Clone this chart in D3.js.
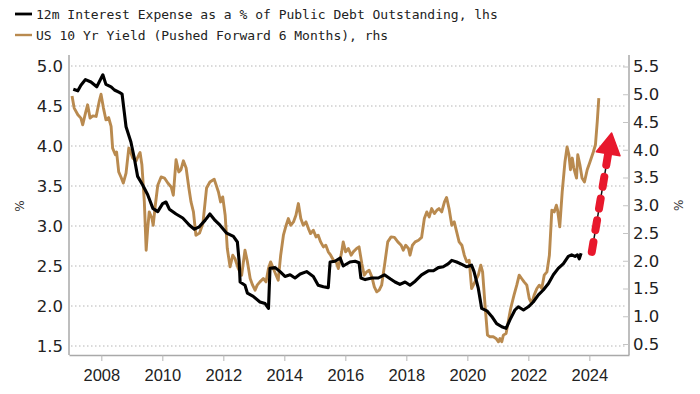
<!DOCTYPE html>
<html>
<head>
<meta charset="utf-8">
<script src="https://cdn.jsdelivr.net/npm/d3@7"></script>
<style>
  body { margin: 0; background: #fff; }
  svg { display: block; }
</style>
</head>
<body>
<div id="chart"></div>
<script>
// 12m interest expense as % of public debt outstanding (lhs)
const expenseDates = [2007.08, 2007.23, 2007.33, 2007.48, 2007.66, 2007.85, 2007.93, 2008.05, 2008.15, 2008.32,
  2008.43, 2008.59, 2008.68, 2008.75, 2008.81, 2008.97, 2009.08, 2009.19, 2009.36, 2009.52,
  2009.69, 2009.85, 2010.01, 2010.12, 2010.23, 2010.45, 2010.67, 2010.89, 2011.05, 2011.21,
  2011.40, 2011.56, 2011.73, 2011.89, 2012.11, 2012.33, 2012.46, 2012.52, 2012.55, 2012.71,
  2012.79, 2012.98, 2013.20, 2013.37, 2013.48, 2013.53, 2013.70, 2013.86, 2014.02, 2014.19,
  2014.35, 2014.52, 2014.73, 2014.95, 2015.11, 2015.28, 2015.44, 2015.50, 2015.66, 2015.83,
  2015.93, 2016.15, 2016.32, 2016.45, 2016.51, 2016.65, 2016.87, 2017.08, 2017.28, 2017.47,
  2017.63, 2017.79, 2017.96, 2018.12, 2018.29, 2018.50, 2018.72, 2018.89, 2019.05, 2019.21,
  2019.38, 2019.49, 2019.65, 2019.82, 2019.98, 2020.14, 2020.22, 2020.36, 2020.47, 2020.64,
  2020.80, 2020.96, 2021.13, 2021.27, 2021.40, 2021.56, 2021.67, 2021.84, 2022.00, 2022.16,
  2022.33, 2022.49, 2022.66, 2022.82, 2022.98, 2023.15, 2023.31, 2023.42, 2023.53, 2023.61,
  2023.67, 2023.73];
const expenseValues = [4.71, 4.69, 4.76, 4.83, 4.80, 4.74, 4.80, 4.89, 4.77, 4.74,
  4.70, 4.67, 4.65, 4.43, 4.24, 4.05, 3.85, 3.62, 3.51, 3.39,
  3.22, 3.18, 3.28, 3.30, 3.21, 3.15, 3.10, 3.01, 2.96, 2.99,
  3.07, 3.15, 3.07, 3.01, 2.91, 2.87, 2.80, 2.55, 2.30, 2.26,
  2.16, 2.12, 2.05, 2.03, 1.97, 2.47, 2.48, 2.43, 2.37, 2.39,
  2.35, 2.40, 2.43, 2.37, 2.26, 2.24, 2.23, 2.55, 2.56, 2.60,
  2.50, 2.55, 2.56, 2.54, 2.35, 2.33, 2.35, 2.35, 2.39, 2.34,
  2.30, 2.27, 2.30, 2.26, 2.31, 2.39, 2.44, 2.44, 2.48, 2.49,
  2.53, 2.57, 2.55, 2.52, 2.49, 2.51, 2.43, 2.22, 1.97, 1.94,
  1.87, 1.78, 1.74, 1.72, 1.83, 1.95, 1.99, 1.95, 1.99, 2.05,
  2.14, 2.20, 2.28, 2.39, 2.47, 2.53, 2.62, 2.64, 2.62, 2.64,
  2.59, 2.66];

// US 10 yr yield pushed forward 6 months (rhs)
const yieldDates = [2007.04, 2007.11, 2007.23, 2007.33, 2007.39, 2007.48, 2007.55, 2007.63, 2007.72, 2007.83,
  2007.93, 2007.99, 2008.07, 2008.15, 2008.24, 2008.32, 2008.37, 2008.46, 2008.50, 2008.57,
  2008.65, 2008.72, 2008.81, 2008.90, 2008.97, 2009.03, 2009.14, 2009.23, 2009.27, 2009.33,
  2009.41, 2009.47, 2009.52, 2009.57, 2009.66, 2009.70, 2009.77, 2009.85, 2009.96, 2010.07,
  2010.18, 2010.29, 2010.36, 2010.45, 2010.54, 2010.61, 2010.69, 2010.78, 2010.87, 2010.94,
  2011.02, 2011.10, 2011.22, 2011.33, 2011.45, 2011.56, 2011.70, 2011.84, 2011.91, 2011.98,
  2012.06, 2012.13, 2012.22, 2012.31, 2012.38, 2012.49, 2012.60, 2012.71, 2012.79, 2012.88,
  2012.96, 2013.04, 2013.11, 2013.20, 2013.31, 2013.40, 2013.48, 2013.55, 2013.64, 2013.73,
  2013.80, 2013.88, 2013.97, 2014.06, 2014.13, 2014.21, 2014.30, 2014.38, 2014.46, 2014.54,
  2014.62, 2014.71, 2014.79, 2014.86, 2014.95, 2015.04, 2015.11, 2015.19, 2015.28, 2015.36,
  2015.44, 2015.52, 2015.61, 2015.70, 2015.77, 2015.88, 2015.93, 2016.01, 2016.10, 2016.19,
  2016.26, 2016.37, 2016.45, 2016.54, 2016.62, 2016.70, 2016.78, 2016.87, 2016.95, 2017.03,
  2017.11, 2017.19, 2017.30, 2017.39, 2017.50, 2017.61, 2017.72, 2017.83, 2017.90, 2017.98,
  2018.07, 2018.12, 2018.20, 2018.29, 2018.40, 2018.50, 2018.59, 2018.67, 2018.75, 2018.83,
  2018.92, 2019.00, 2019.07, 2019.16, 2019.25, 2019.32, 2019.40, 2019.49, 2019.57, 2019.65,
  2019.73, 2019.82, 2019.90, 2019.98, 2020.06, 2020.14, 2020.25, 2020.36, 2020.44, 2020.50,
  2020.58, 2020.66, 2020.74, 2020.85, 2020.94, 2021.02, 2021.07, 2021.13, 2021.18, 2021.27,
  2021.34, 2021.42, 2021.53, 2021.62, 2021.70, 2021.78, 2021.86, 2021.95, 2022.03, 2022.11,
  2022.19, 2022.28, 2022.36, 2022.44, 2022.52, 2022.61, 2022.69, 2022.77, 2022.85, 2022.92,
  2022.96, 2023.03, 2023.11, 2023.20, 2023.27, 2023.33, 2023.38, 2023.44, 2023.49, 2023.58,
  2023.62, 2023.69, 2023.76, 2023.84, 2023.93, 2024.02, 2024.13, 2024.20, 2024.26, 2024.31];
const yieldValues = [4.97, 4.75, 4.63, 4.57, 4.45, 4.66, 4.81, 4.57, 4.61, 4.60,
  4.87, 5.00, 4.75, 4.54, 4.58, 4.42, 4.03, 3.91, 3.96, 3.60,
  3.50, 3.40, 3.58, 4.03, 3.94, 3.85, 3.80, 3.91, 3.95, 3.73,
  3.06, 2.19, 2.58, 2.88, 2.76, 2.64, 3.00, 3.36, 3.51, 3.49,
  3.40, 3.33, 3.18, 3.82, 3.60, 3.64, 3.80, 3.67, 3.31, 3.06,
  2.88, 2.46, 2.50, 2.67, 3.31, 3.42, 3.47, 3.24, 3.06, 3.15,
  2.82, 2.22, 1.89, 2.10, 2.04, 1.86, 1.74, 2.19, 1.98, 1.68,
  1.56, 1.47, 1.56, 1.62, 1.68, 1.62, 1.86, 1.98, 1.86, 1.74,
  1.65, 2.10, 2.46, 2.64, 2.76, 2.64, 2.70, 2.82, 3.03, 2.76,
  2.64, 2.70, 2.58, 2.49, 2.55, 2.43, 2.46, 2.34, 2.25, 2.28,
  2.16, 2.10, 2.01, 1.98, 1.86, 2.16, 2.34, 2.16, 2.22, 2.10,
  2.16, 2.22, 2.25, 1.95, 1.74, 1.80, 1.83, 1.71, 1.53, 1.44,
  1.47, 1.56, 1.98, 2.34, 2.43, 2.42, 2.34, 2.28, 2.19, 2.28,
  2.22, 2.10, 2.28, 2.34, 2.37, 2.42, 2.76, 2.88, 2.79, 2.94,
  2.85, 2.91, 2.94, 2.88, 3.06, 3.14, 2.94, 2.64, 2.70, 2.52,
  2.34, 2.28, 2.10, 1.98, 2.01, 1.50, 1.62, 1.74, 1.92, 1.80,
  1.20, 0.66, 0.63, 0.63, 0.60, 0.54, 0.60, 0.54, 0.66, 0.69,
  0.90, 1.14, 1.38, 1.56, 1.74, 1.68, 1.62, 1.56, 1.32, 1.23,
  1.38, 1.50, 1.56, 1.50, 1.74, 1.80, 2.10, 2.91, 2.88, 3.00,
  2.91, 2.61, 3.24, 3.78, 4.05, 3.91, 3.64, 3.85, 3.67, 3.49,
  3.91, 3.73, 3.49, 3.42, 3.64, 3.78, 3.96, 4.09, 4.51, 4.93];

const leftTicks = [1.5, 2.0, 2.5, 3.0, 3.5, 4.0, 4.5, 5.0];
const rightTicks = [0.5, 1.0, 1.5, 2.0, 2.5, 3.0, 3.5, 4.0, 4.5, 5.0, 5.5];
const yearTicks = [2008, 2010, 2012, 2014, 2016, 2018, 2020, 2022, 2024];
const legendLabels = ["12m Interest Expense as a % of Public Debt Outstanding, lhs",
  "US 10 Yr Yield (Pushed Forward 6 Months), rhs"];
// hand-drawn arrow annotation, on the rhs scale: [year, value]
const arrowStart = [2024.08, 2.16];
const arrowTip = [2024.73, 4.30];

const width = 700, height = 394;
const margin = {top: 55, right: 71, bottom: 39, left: 69};
const black = "#000000", tan = "#b98a4f";

const svg = d3.select("#chart").append("svg")
  .attr("width", width)
  .attr("height", height);

const x = d3.scaleLinear()
  .domain([2006.94, 2025.3])
  .range([margin.left, width - margin.right]);
const yL = d3.scaleLinear()
  .domain([1.3875, 5.1375])
  .range([height - margin.bottom, margin.top]);
const yR = d3.scaleLinear()
  .domain([0.302, 5.707])
  .range([height - margin.bottom, margin.top]);

// gridlines (follow lhs ticks)
svg.append("g")
  .selectAll("line")
  .data(leftTicks)
  .join("line")
  .attr("x1", margin.left + 2)
  .attr("x2", width - margin.right - 2)
  .attr("y1", d => yL(d))
  .attr("y2", d => yL(d))
  .attr("stroke", "#b5b5b5")
  .attr("stroke-width", 1)
  .attr("stroke-dasharray", "1.5,2.5");

// left axis
const leftAxis = svg.append("g")
  .attr("transform", "translate(" + margin.left + ",0)")
  .call(d3.axisLeft(yL).tickValues(leftTicks).tickFormat(d3.format(".1f")).tickSize(0).tickPadding(6));

// right axis
const rightAxis = svg.append("g")
  .attr("transform", "translate(" + (width - margin.right) + ",0)")
  .call(d3.axisRight(yR).tickValues(rightTicks).tickFormat(d3.format(".1f")).tickSizeInner(-6).tickSizeOuter(0).tickPadding(4));

// bottom axis
const bottomAxis = svg.append("g")
  .attr("transform", "translate(0," + (height - margin.bottom) + ")")
  .call(d3.axisBottom(x).tickValues(yearTicks).tickFormat(d3.format("d")).tickSizeInner(6).tickSizeOuter(0).tickPadding(8));

[leftAxis, rightAxis].forEach(g => {
  g.select(".domain").attr("stroke", "#a9a9a9").attr("stroke-width", 1.5);
  g.selectAll(".tick line").attr("stroke", "#c4c4c4");
  g.selectAll("text")
    .attr("fill", "#222")
    .style("font-family", "DejaVu Sans, Verdana, sans-serif")
    .style("font-size", "16.5px");
});
bottomAxis.select(".domain").attr("stroke", "#a9a9a9").attr("stroke-width", 1.5);
bottomAxis.selectAll(".tick line").attr("stroke", "#b5b5b5");
bottomAxis.selectAll("text")
  .attr("fill", "#222")
  .style("font-family", "Liberation Sans, Arial, sans-serif")
  .style("font-size", "16.5px");

// the axis domains start a bit above the top gridline
leftAxis.select(".domain").attr("d", "M0," + (height - margin.bottom) + "V" + margin.top);
rightAxis.select(".domain").attr("d", "M0," + (height - margin.bottom) + "V" + margin.top);

// % unit labels
svg.append("text")
  .attr("transform", "translate(20," + yL(3.25) + ") rotate(-90)")
  .attr("text-anchor", "middle")
  .attr("dominant-baseline", "middle")
  .style("font-family", "DejaVu Sans, sans-serif")
  .style("font-size", "12px")
  .attr("fill", "#333")
  .text("%");
svg.append("text")
  .attr("transform", "translate(679," + yR(3.0) + ") rotate(-90)")
  .attr("text-anchor", "middle")
  .attr("dominant-baseline", "middle")
  .style("font-family", "DejaVu Sans, sans-serif")
  .style("font-size", "12px")
  .attr("fill", "#333")
  .text("%");

// lines
const lineL = d3.line().x(d => x(d[0])).y(d => yL(d[1]));
const lineR = d3.line().x(d => x(d[0])).y(d => yR(d[1]));

svg.append("path")
  .datum(yieldDates.map((d, i) => [d, yieldValues[i]]))
  .attr("fill", "none")
  .attr("stroke", tan)
  .attr("stroke-width", 2.9)
  .attr("stroke-linejoin", "round")
  .attr("d", lineR);

svg.append("path")
  .datum(expenseDates.map((d, i) => [d, expenseValues[i]]))
  .attr("fill", "none")
  .attr("stroke", black)
  .attr("stroke-width", 3.1)
  .attr("stroke-linejoin", "round")
  .attr("d", lineL);

// red dashed arrow
const p0 = [x(arrowStart[0]), yR(arrowStart[1])];
const p1 = [x(arrowTip[0]), yR(arrowTip[1])];
const dx = p1[0] - p0[0], dy = p1[1] - p0[1];
const len = Math.hypot(dx, dy);
const ux = dx / len, uy = dy / len;
const headLen = 21, headHalf = 12;
const base = [p1[0] - ux * headLen, p1[1] - uy * headLen];

svg.append("line")
  .attr("x1", p0[0]).attr("y1", p0[1])
  .attr("x2", base[0]).attr("y2", base[1])
  .attr("stroke", "#111")
  .attr("stroke-width", 1.5);
svg.append("line")
  .attr("x1", p0[0]).attr("y1", p0[1])
  .attr("x2", base[0]).attr("y2", base[1])
  .attr("stroke", "#e8182c")
  .attr("stroke-width", 8)
  .attr("stroke-linecap", "round")
  .attr("stroke-dasharray", "10,12");
svg.append("path")
  .attr("d", d3.line()([
    p1,
    [base[0] - uy * headHalf, base[1] + ux * headHalf],
    [base[0] + uy * headHalf, base[1] - ux * headHalf]
  ]) + "Z")
  .attr("fill", "#e8182c")
  .attr("stroke", "#e8182c")
  .attr("stroke-width", 1.5)
  .attr("stroke-linejoin", "round");

// legend
const legend = svg.append("g");
legend.selectAll("line")
  .data(legendLabels)
  .join("line")
  .attr("x1", 15).attr("x2", 32)
  .attr("y1", (d, i) => 14 + i * 21)
  .attr("y2", (d, i) => 14 + i * 21)
  .attr("stroke", (d, i) => i === 0 ? black : tan)
  .attr("stroke-width", (d, i) => i === 0 ? 2.8 : 2.4);
legend.selectAll("text")
  .data(legendLabels)
  .join("text")
  .attr("x", 36)
  .attr("y", (d, i) => 18.5 + i * 21)
  .style("font-family", "DejaVu Sans Mono, monospace")
  .style("font-size", "13px")
  .attr("fill", "#222")
  .text(d => d);
</script>
</body>
</html>
